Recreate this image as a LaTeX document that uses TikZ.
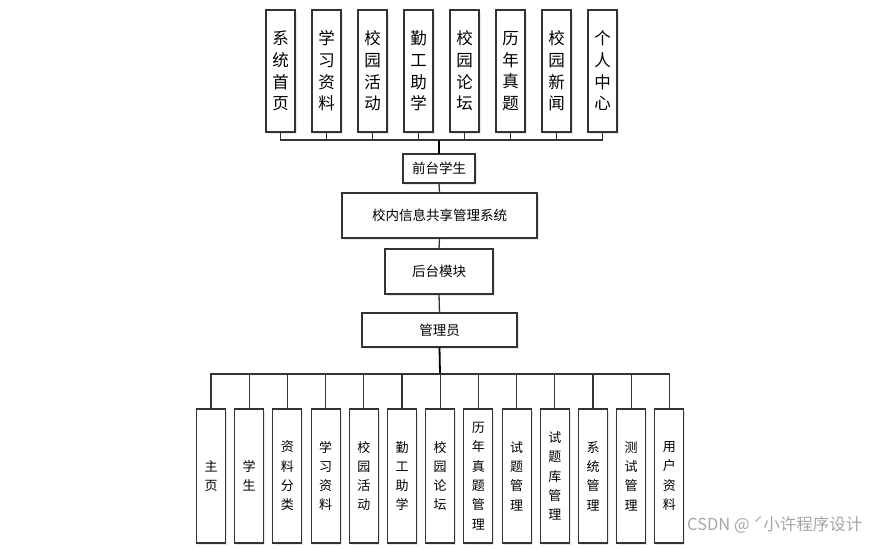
\documentclass[tikz,border=0pt]{standalone}
\usepackage{fontspec}
\setmainfont{Noto Sans CJK SC}
\usetikzlibrary{positioning,shadows}

\begin{document}
\begin{tikzpicture}[
  x=1pt, y=-1pt,
  node distance=17pt,
  box/.style={rectangle, draw=black!80, fill=white, line width=1.1pt, outer sep=0pt, inner sep=1pt, align=center, drop shadow={opacity=0.18, shadow xshift=1.5pt, shadow yshift=-1.5pt}},
  topbox/.style={box, minimum width=29pt, minimum height=122pt, font=\fontsize{16.5}{21.7}\selectfont},
  midbox/.style={box, font=\fontsize{13.5}{16}\selectfont},
  lowbox/.style={box, minimum width=29pt, minimum height=134pt, font=\fontsize{13}{19.3}\selectfont},
  link/.style={draw=black!80, line width=1.3pt},
  trunk/.style={draw=black, line width=1.8pt}
]
\useasboundingbox (0,0) rectangle (871,549);

% front end modules
\node[topbox] (t1) at (280.5,71) {系\\统\\首\\页};
\node[topbox, right=of t1] (t2) {学\\习\\资\\料};
\node[topbox, right=of t2] (t3) {校\\园\\活\\动};
\node[topbox, right=of t3] (t4) {勤\\工\\助\\学};
\node[topbox, right=of t4] (t5) {校\\园\\论\\坛};
\node[topbox, right=of t5] (t6) {历\\年\\真\\题};
\node[topbox, right=of t6] (t7) {校\\园\\新\\闻};
\node[topbox, right=of t7] (t8) {个\\人\\中\\心};

% main chain
\node[midbox, minimum width=72pt, minimum height=29pt] (front) at (439,168.5) {前台学生};
\node[midbox, minimum width=195pt, minimum height=45pt] (sys) at (439.5,215.5) {校内信息共享管理系统};
\node[midbox, minimum width=108pt, minimum height=45pt] (back) at (439,271.5) {后台模块};
\node[midbox, minimum width=155pt, minimum height=34pt] (admin) at (439.5,330) {管理员};

% back end modules
\node[lowbox] (b1) at (211,476) {主\\页};
\node[lowbox, right=9.2pt of b1] (b2) {学\\生};
\node[lowbox, right=9.2pt of b2] (b3) {资\\料\\分\\类};
\node[lowbox, right=9.2pt of b3] (b4) {学\\习\\资\\料};
\node[lowbox, right=9.2pt of b4] (b5) {校\\园\\活\\动};
\node[lowbox, right=9.2pt of b5] (b6) {勤\\工\\助\\学};
\node[lowbox, right=9.2pt of b6] (b7) {校\\园\\论\\坛};
\node[lowbox, right=9.2pt of b7] (b8) {历\\年\\真\\题\\管\\理};
\node[lowbox, right=9.2pt of b8] (b9) {试\\题\\管\\理};
\node[lowbox, right=9.2pt of b9] (b10) {试\\题\\库\\管\\理};
\node[lowbox, right=9.2pt of b10] (b11) {系\\统\\管\\理};
\node[lowbox, right=9.2pt of b11] (b12) {测\\试\\管\\理};
\node[lowbox, right=9.2pt of b12] (b13) {用\\户\\资\\料};

\node[font=\fontsize{16.5}{18}\selectfont, text=black!35, anchor=west, inner sep=0pt] (mark) at (687,525) {CSDN @ ˊ小许程序设计};

% connectors
\coordinate (topbus) at (439,140);
\coordinate (lowbus) at (440,374);
\draw[link] (t1.south) |- (topbus) -| (t8.south);
\foreach \n in {t2,t3,t4,t5,t6,t7}
  \draw[link] (\n.south) -- (\n.south |- topbus);
\draw[trunk] (topbus) -- (front.north);
\draw[link] (front.south) -- (sys.north);
\draw[link] (sys.south) -- (back.north);
\draw[link] (back.south) -- (admin.north);
\draw[trunk] (admin.south) -- (lowbus);
\draw[link] (b1.north) |- (lowbus) -| (b13.north);
\foreach \n in {b2,b3,b4,b5,b6,b7,b8,b9,b10,b11,b12}
  \draw[link] (\n.north) -- (\n.north |- lowbus);
\end{tikzpicture}
\end{document}
